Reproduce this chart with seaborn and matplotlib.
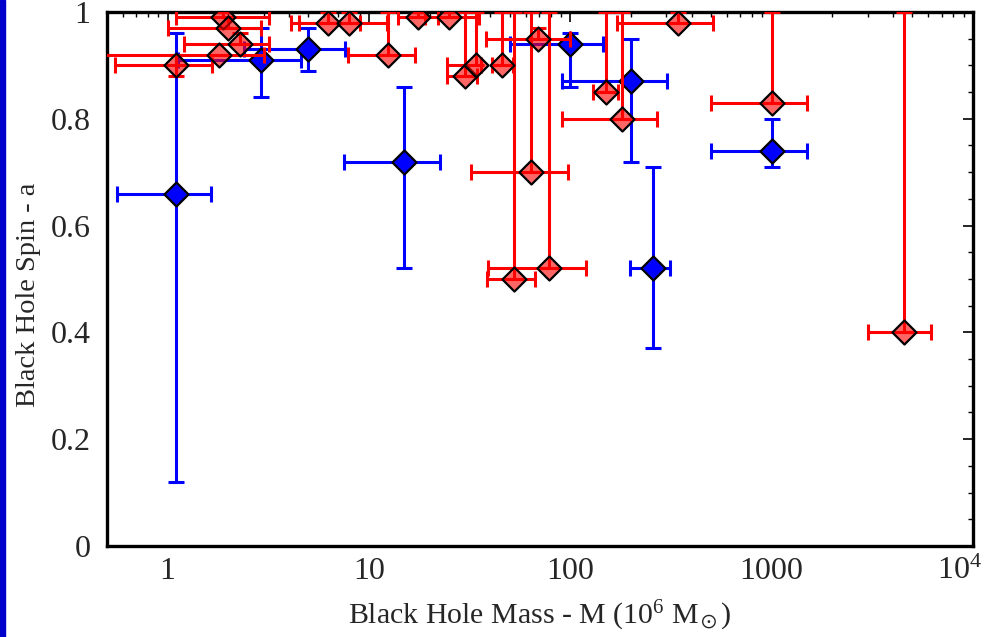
import numpy as np
import pandas as pd
import matplotlib
matplotlib.use('Agg')
import matplotlib.pyplot as plt
import matplotlib.ticker as mticker
from matplotlib.patches import Rectangle
from matplotlib.transforms import ScaledTranslation
import seaborn as sns

# blue sample: mass (10^6 Msun) with range, spin with range
blue_mass = [1.1, 2.9, 5.0, 15, 100, 200, 256, 1000]
blue_mass_lo = [0.56, 1.12, 2.4, 7.5, 50, 91, 199, 500]
blue_mass_hi = [1.65, 4.6, 7.6, 22.5, 146, 303, 314, 1500]
blue_spin = [0.66, 0.91, 0.93, 0.72, 0.94, 0.87, 0.52, 0.74]
blue_spin_lo = [0.12, 0.84, 0.89, 0.52, 0.86, 0.72, 0.37, 0.71]
blue_spin_hi = [0.96, 0.97, 0.97, 0.86, 0.96, 0.95, 0.71, 0.80]

# red sample
red_mass = [1.1, 1.8, 1.88, 2.0, 2.3, 6.25, 8.0, 12.4, 17.5, 25, 30, 34,
            46, 52.7, 64, 69, 78.6, 150, 181, 341, 1000, 4540]
red_mass_lo = [0.55, 0.45, 1.1, 1.0, 1.2, 4.1, 4.5, 7.9, 13.9, 19, 24.5, 24.5,
               41, 38.6, 32, 38, 39, 130, 91, 171, 500, 3000]
red_mass_hi = [1.66, 3.0, 3.2, 2.9, 3.2, 9.0, 12.3, 16.9, 22, 35, 34.5, 36,
               52, 67, 97, 100, 119, 172, 271, 514, 1500, 6200]
red_spin = [0.90, 0.92, 0.99, 0.97, 0.94, 0.98, 0.98, 0.92, 0.99, 0.99, 0.88, 0.90,
            0.90, 0.50, 0.70, 0.95, 0.52, 0.85, 0.80, 0.98, 0.83, 0.40]
red_spin_lo = [0.88, 0.92, 0.99, 0.97, 0.94, 0.98, 0.98, 0.92, 0.99, 0.99, 0.88, 0.90,
               0.90, 0.50, 0.70, 0.95, 0.52, 0.85, 0.80, 0.98, 0.83, 0.40]
red_spin_hi = [0.92, 0.92, 1.0, 0.99, 0.96, 1.0, 1.0, 1.0, 1.0, 1.0, 1.0, 1.0,
               1.0, 1.0, 1.0, 0.97, 1.0, 1.0, 1.0, 1.0, 1.0, 1.0]

x_ticks = [1, 10, 100, 1000, 10000]
x_labels = ['1', '10', '100', '1000', '$\\mathregular{10^4}$']

sns.set_style('white')
plt.rcParams['font.family'] = ['Liberation Serif', 'DejaVu Serif']
plt.rcParams['mathtext.fontset'] = 'custom'
plt.rcParams['mathtext.rm'] = 'Liberation Serif'
plt.rcParams['mathtext.it'] = 'Liberation Serif:italic'

blue = pd.DataFrame({'mass': blue_mass, 'lo': blue_mass_lo, 'hi': blue_mass_hi,
                     'spin': blue_spin, 'slo': blue_spin_lo, 'shi': blue_spin_hi})
red = pd.DataFrame({'mass': red_mass, 'lo': red_mass_lo, 'hi': red_mass_hi,
                    'spin': red_spin, 'slo': red_spin_lo, 'shi': red_spin_hi})

fig = plt.figure(figsize=(9.84, 6.37), dpi=100)
fig.patches.append(Rectangle((0, 0), 5 / 984, 1, transform=fig.transFigure,
                             color='#0000cc', zorder=0))
ax = fig.add_axes([107 / 984, 1 - 546 / 637, 866 / 984, 534 / 637])

for df, col, face, z in [(blue, '#0000ff', '#0000ff', 2), (red, '#ff0000', (1, 0, 0, 0.6), 4)]:
    xerr = [df['mass'] - df['lo'], df['hi'] - df['mass']]
    yerr = [df['spin'] - df['slo'], df['shi'] - df['spin']]
    ax.errorbar(df['mass'], df['spin'], xerr=xerr, yerr=yerr, fmt='none',
                ecolor=col, elinewidth=2.2, capsize=6, capthick=2.2, zorder=z)
    sns.scatterplot(data=df, x='mass', y='spin', ax=ax, marker='D', s=150,
                    color=face, edgecolor='black', linewidth=1.6, zorder=z + 1,
                    legend=False)

ax.set_xscale('log')
ax.set_xlim(0.5, 1e4)
ax.set_ylim(0, 1)
ax.xaxis.set_major_locator(mticker.FixedLocator(x_ticks))
ax.xaxis.set_major_formatter(mticker.FixedFormatter(x_labels))
ax.xaxis.set_minor_locator(mticker.LogLocator(base=10, subs=np.arange(2, 10)))
ax.xaxis.set_minor_formatter(mticker.NullFormatter())
ax.yaxis.set_major_locator(mticker.MultipleLocator(0.2))
ax.yaxis.set_minor_locator(mticker.MultipleLocator(0.05))
ax.yaxis.set_major_formatter(mticker.FuncFormatter(lambda v, p: '%g' % round(v, 2)))

ax.tick_params(which='both', direction='in', top=True, right=True, color='black')
ax.tick_params(which='major', length=7, width=1.2, labelsize=23, pad=8)
ax.tick_params(axis='y', which='major', pad=12)
ax.tick_params(which='minor', length=3.5, width=1.0)
for s in ax.spines.values():
    s.set_linewidth(2.4)
    s.set_color('black')

ax.set_xlabel('Black Hole Mass - M ($\\mathregular{10^6\\ M_\\odot}$)', fontsize=21.5, labelpad=9)
ax.set_ylabel('Black Hole Spin - a', fontsize=20.5)
ax.yaxis.set_label_coords(-0.076, 0.47)

# pull the last tick label a little left, as in the original
fig.canvas.draw()
lab = ax.xaxis.get_major_ticks()[-1].label1
lab.set_transform(lab.get_transform() + ScaledTranslation(-0.13, 0, fig.dpi_scale_trans))

fig.savefig('out.png', dpi=100)
